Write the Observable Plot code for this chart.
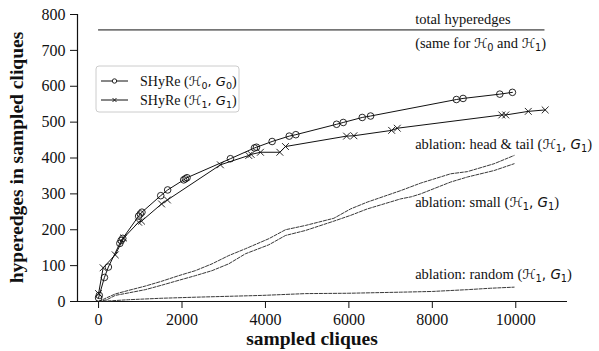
<!DOCTYPE html>
<html>
<head>
<meta charset="utf-8">
<script src="https://cdn.jsdelivr.net/npm/d3@7"></script>
<script src="https://cdn.jsdelivr.net/npm/@observablehq/plot@0.6"></script>
<style>
  html, body { margin: 0; padding: 0; background: #fff; }
  #chart svg { display: block; }
</style>
</head>
<body>
<div id="chart"></div>
<script>
// ---- data ----
const xTicks = [0, 2000, 4000, 6000, 8000, 10000];
const yTicks = [0, 100, 200, 300, 400, 500, 600, 700, 800];
const totalHyperedges = 757;
const totalExtent = [0, 10700];

const shyreH0 = [
  [0, 10], [17, 17], [140, 67], [235, 96], [510, 162], [540, 170], [580, 176],
  [960, 238], [1000, 244], [1040, 249], [1490, 295], [1656, 311], [2040, 339],
  [2080, 342], [2120, 345], [3160, 398], [3737, 428], [3785, 430], [4160, 446],
  [4570, 461], [4728, 465], [5705, 494], [5865, 499], [6320, 513], [6520, 517],
  [8577, 563], [8737, 566], [9617, 578], [9920, 583]
];
const shyreH1 = [
  [0, 22], [110, 94], [400, 130], [600, 177], [960, 221], [1030, 224],
  [1510, 272], [1650, 283], [2920, 381], [3600, 407], [3657, 410], [3880, 416],
  [4345, 416], [4480, 432], [5945, 461], [6120, 462], [7025, 477], [7160, 483],
  [9665, 520], [9760, 520], [10300, 530], [10705, 534]
];
const ablationHeadTail = [
  [0, 0], [150, 8], [400, 21], [720, 31], [1120, 43], [1500, 56], [1920, 72],
  [2320, 86], [2720, 105], [3120, 128], [3520, 147], [4080, 175], [4480, 200],
  [4960, 212], [5640, 232], [6040, 258], [6440, 277], [7240, 309], [7720, 330],
  [8440, 356], [8840, 362], [9480, 384], [9960, 407]
];
const ablationSmall = [
  [0, 0], [200, 5], [400, 17], [720, 24], [1120, 33], [1500, 45], [1920, 59],
  [2320, 72], [2720, 86], [3120, 105], [3520, 133], [4080, 158], [4480, 184],
  [4960, 198], [5640, 224], [6040, 240], [6440, 258], [7240, 286], [7500, 292],
  [7720, 300], [8440, 333], [8840, 347], [9480, 365], [9960, 384]
];
const ablationRandom = [
  [0, 0], [300, 2], [720, 5], [1500, 9], [2320, 12], [3920, 17], [4960, 22],
  [6000, 23], [7240, 26], [8000, 28], [8840, 33], [9400, 37], [9960, 40]
];

const toRows = (arr) => arr.map(([x, y]) => ({x, y}));

const serif = "Liberation Serif";
const dash = "3.2,1.5";

const plot = Plot.plot({
  width: 599,
  height: 351,
  marginLeft: 77,
  marginRight: 32,
  marginTop: 14,
  marginBottom: 50,
  style: {background: "#fff", color: "#111", fontFamily: serif, fontSize: "16px"},
  x: {domain: [-505, 11240], label: null},
  y: {domain: [0, 800], label: null},
  marks: [
    Plot.axisX({ticks: xTicks, tickSize: 7, tickPadding: 5, fontSize: 16, fontFamily: serif, tickFormat: d3.format("d"), label: null}),
    Plot.axisY({ticks: yTicks, tickSize: 7, tickPadding: 5, fontSize: 16, fontFamily: serif, label: null}),
    Plot.ruleX([-505], {stroke: "#111", strokeWidth: 1.2}),
    Plot.ruleY([0], {stroke: "#111", strokeWidth: 1.2}),
    Plot.ruleY([totalHyperedges], {x1: totalExtent[0], x2: totalExtent[1], stroke: "#111", strokeWidth: 1}),
    Plot.line(toRows(ablationHeadTail), {x: "x", y: "y", stroke: "#222", strokeWidth: 0.9, strokeDasharray: dash}),
    Plot.line(toRows(ablationSmall), {x: "x", y: "y", stroke: "#222", strokeWidth: 0.9, strokeDasharray: dash}),
    Plot.line(toRows(ablationRandom), {x: "x", y: "y", stroke: "#222", strokeWidth: 0.9, strokeDasharray: dash}),
    Plot.line(toRows(shyreH1), {x: "x", y: "y", stroke: "#111", strokeWidth: 1}),
    Plot.dot(toRows(shyreH1), {x: "x", y: "y", symbol: "times", r: 3.2, stroke: "#111", strokeWidth: 0.9}),
    Plot.line(toRows(shyreH0), {x: "x", y: "y", stroke: "#111", strokeWidth: 1}),
    Plot.dot(toRows(shyreH0), {x: "x", y: "y", symbol: "circle", r: 3.3, fill: "none", stroke: "#111", strokeWidth: 0.9})
  ]
});

document.getElementById("chart").appendChild(plot);

const svg = d3.select(plot);
// make sure Plot's own tick labels use the serif face
svg.selectAll("text").each(function () {
  this.setAttribute("font-family", serif);
  this.style.setProperty("font-family", serif, "important");
  this.style.setProperty("font-size", "16px", "important");
});

const sx = plot.scale("x"), sy = plot.scale("y");
const X = (v) => sx.apply(v), Y = (v) => sy.apply(v);

// helper: rich text with math parts
function richText(g, x, y, parts, size) {
  const t = g.append("text").attr("x", x).attr("y", y).attr("text-anchor", "start")
    .attr("font-family", serif).attr("font-size", size).attr("fill", "#111");
  for (const p of parts) {
    const s = t.append("tspan").text(p.t);
    if (p.m) s.attr("font-family", "DejaVu Sans").attr("font-size", size * 0.93);
    if (p.i) s.attr("font-style", "italic");
    if (p.sub) s.attr("font-size", size * 0.68).attr("dy", size * 0.22).attr("font-family", "DejaVu Sans");
    if (p.up) s.attr("dy", -size * 0.22);
  }
  return t;
}
const math = (n) => [
  {t: "("}, {t: "ℋ", m: true}, {t: n, sub: true}, {t: ", ", m: true, up: true},
  {t: "G", m: true, i: true}, {t: n, sub: true}, {t: ")", up: true}
];

const ann = svg.append("g");
const fs = 14.5;
richText(ann, X(7600), Y(772), [{t: "total hyperedges"}], fs);
richText(ann, X(7600), Y(705), [{t: "(same for "}, {t: "ℋ", m: true}, {t: "0", sub: true},
  {t: " and ", up: true}, {t: "ℋ", m: true}, {t: "1", sub: true}, {t: ")", up: true}], fs);
richText(ann, X(7600), Y(424), [{t: "ablation: head & tail "}].concat(math("1")), fs);
richText(ann, X(7600), Y(262), [{t: "ablation: small "}].concat(math("1")), fs);
richText(ann, X(7600), Y(61), [{t: "ablation: random "}].concat(math("1")), fs);

// axis labels
svg.append("text").attr("x", 312).attr("y", 345)
  .attr("text-anchor", "middle").attr("font-family", serif).attr("font-weight", "bold")
  .attr("font-size", 19.5).attr("fill", "#111").text("sampled cliques");
svg.append("text").attr("transform", `translate(23, ${(Y(0) + Y(800)) / 2}) rotate(-90)`)
  .attr("text-anchor", "middle").attr("font-family", serif).attr("font-weight", "bold")
  .attr("font-size", 19.5).attr("fill", "#111").text("hyperedges in sampled cliques");

// legend
const lg = svg.append("g");
lg.append("rect").attr("x", 96).attr("y", 66).attr("width", 143).attr("height", 46)
  .attr("rx", 3).attr("fill", "#fff").attr("fill-opacity", 0.85).attr("stroke", "#ccc").attr("stroke-width", 1);
const legendItems = [{sym: "circle", n: "0", y: 81}, {sym: "times", n: "1", y: 100}];
for (const it of legendItems) {
  lg.append("line").attr("x1", 101).attr("x2", 128).attr("y1", it.y).attr("y2", it.y)
    .attr("stroke", "#111").attr("stroke-width", 1);
  if (it.sym === "circle") {
    lg.append("circle").attr("cx", 114.5).attr("cy", it.y).attr("r", 2.2)
      .attr("fill", "#fff").attr("stroke", "#111").attr("stroke-width", 0.9);
  } else {
    lg.append("path").attr("d", `M${112.5},${it.y - 2}L${116.5},${it.y + 2}M${112.5},${it.y + 2}L${116.5},${it.y - 2}`)
      .attr("stroke", "#111").attr("stroke-width", 0.9);
  }
  richText(lg, 140, it.y + 4.5, [{t: "SHyRe "}].concat(math(it.n)), 14);
}
</script>
</body>
</html>
